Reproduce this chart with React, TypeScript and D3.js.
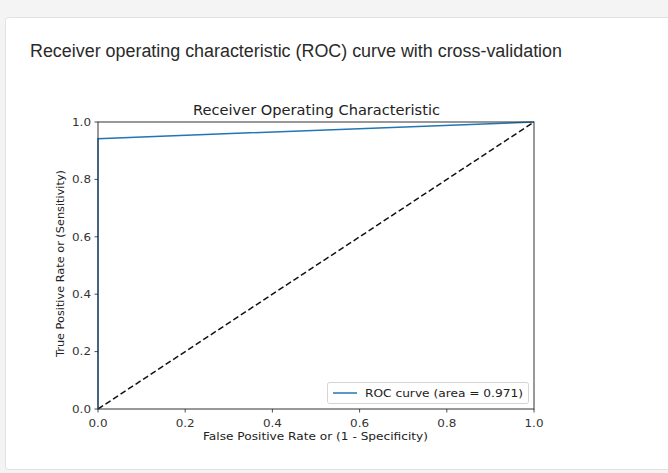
import React from "react";
import * as d3 from "d3";

const fpr = [0, 0, 1];
const tpr = [0, 0.942, 1];
const chanceX = [0, 1];
const chanceY = [0, 1];
const ticks = [0, 0.2, 0.4, 0.6, 0.8, 1.0];
const tickLabels = ["0.0", "0.2", "0.4", "0.6", "0.8", "1.0"];
const legendLabel = "ROC curve (area = 0.971)";
const pageTitle = "Receiver operating characteristic (ROC) curve with cross-validation";
const plotTitle = "Receiver Operating Characteristic";
const xLabel = "False Positive Rate or (1 - Specificity)";
const yLabel = "True Positive Rate or (Sensitivity)";

export default function App() {
  const W = 668, H = 473;
  const x = d3.scaleLinear().domain([0, 1]).range([98, 534]);
  const y = d3.scaleLinear().domain([0, 1]).range([409, 122]);
  const roc = d3.line<number>().x((_, i) => x(fpr[i])).y((d) => y(d))(tpr) || "";
  const chance = d3.line<number>().x((_, i) => x(chanceX[i])).y((d) => y(d))(chanceY) || "";
  const font = "DejaVu Sans, sans-serif";
  return (
    <svg width={W} height={H} style={{ position: "fixed", left: 0, top: 0, background: "#fff" }}>
      <rect x={0} y={0} width={W} height={H} fill="#f4f4f4" />
      <rect x={5.5} y={17.5} width={W + 10} height={452} rx={3} fill="#fff" stroke="#e2e2e2" />
      <text x={30} y={57} fontFamily="Liberation Sans, Arial, sans-serif" fontSize={18} fill="#2a2a2a" textLength={532} lengthAdjust="spacingAndGlyphs">{pageTitle}</text>
      <text x={316.5} y={115} textAnchor="middle" fontFamily={font} fontSize={13.5} fill="#222" textLength={247} lengthAdjust="spacingAndGlyphs">{plotTitle}</text>
      <path d={chance} stroke="#111" strokeWidth={1.5} strokeDasharray="6,3" fill="none" />
      <path d={roc} stroke="#1f77b4" strokeWidth={1.5} fill="none" />
      <rect x={98} y={122} width={436} height={287} fill="none" stroke="#333" strokeWidth={1} />
      {ticks.map((t, i) => (
        <g key={"x" + i}>
          <line x1={x(t)} x2={x(t)} y1={409} y2={412.5} stroke="#222" strokeWidth={0.8} />
          <text x={x(t)} y={426.5} textAnchor="middle" fontFamily={font} fontSize={10.8} fill="#333" textLength={19} lengthAdjust="spacingAndGlyphs">{tickLabels[i]}</text>
        </g>
      ))}
      {ticks.map((t, i) => (
        <g key={"y" + i}>
          <line x1={94.5} x2={98} y1={y(t)} y2={y(t)} stroke="#222" strokeWidth={0.8} />
          <text x={91} y={y(t) + 3.8} textAnchor="end" fontFamily={font} fontSize={10.8} fill="#333" textLength={19} lengthAdjust="spacingAndGlyphs">{tickLabels[i]}</text>
        </g>
      ))}
      <text x={315.5} y={440} textAnchor="middle" fontFamily={font} fontSize={10.8} fill="#222" textLength={225} lengthAdjust="spacingAndGlyphs">{xLabel}</text>
      <text transform={`translate(64,${263.5}) rotate(-90)`} textAnchor="middle" fontFamily={font} fontSize={10.8} fill="#222" textLength={187} lengthAdjust="spacingAndGlyphs">{yLabel}</text>
      <rect x={327.5} y={382.5} width={201} height={21} rx={2} fill="#fff" fillOpacity={0.8} stroke="#d5d5d5" />
      <line x1={333} x2={357} y1={393} y2={393} stroke="#1f77b4" strokeWidth={1.5} />
      <text x={365} y={397} fontFamily={font} fontSize={10.8} fill="#222" textLength={158} lengthAdjust="spacingAndGlyphs">{legendLabel}</text>
    </svg>
  );
}
